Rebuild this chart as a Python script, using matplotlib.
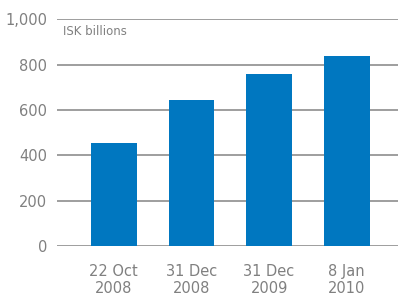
import matplotlib.pyplot as plt
from matplotlib.ticker import FuncFormatter

# ISK billions at each date
dates = ['22 Oct\n2008', '31 Dec\n2008', '31 Dec\n2009', '8 Jan\n2010']
values = [455, 645, 759, 839]
yticks = [0, 200, 400, 600, 800, 1000]

bar_color = '#0077C0'
text_gray = '#808080'

fig = plt.figure(figsize=(3.98, 2.95), dpi=100)
ax = fig.add_axes([0.1425, 0.166, 0.8575, 0.768])

ax.bar(range(len(values)), values, width=0.59, color=bar_color, zorder=3)

ax.set_ylim(0, 1000)
ax.set_xlim(-0.735, 3.66)
ax.set_yticks(yticks)
ax.yaxis.set_major_formatter(FuncFormatter(lambda v, p: f'{int(v):,}'))
ax.set_xticks(range(len(dates)))
ax.set_xticklabels(dates, linespacing=1.2)

for y in yticks:
    ax.axhline(y, color='#8e8e8e', linewidth=1.2, zorder=1)

for s in ax.spines.values():
    s.set_visible(False)
ax.tick_params(axis='y', length=0, pad=7, labelsize=10.5, labelcolor=text_gray)
ax.tick_params(axis='x', length=0, pad=13, labelsize=10.5, labelcolor=text_gray)

ax.text(0.018, 0.975, 'ISK billions', transform=ax.transAxes, fontsize=8.5,
        color=text_gray, va='top', ha='left')

fig.savefig('out.png', dpi=100)
